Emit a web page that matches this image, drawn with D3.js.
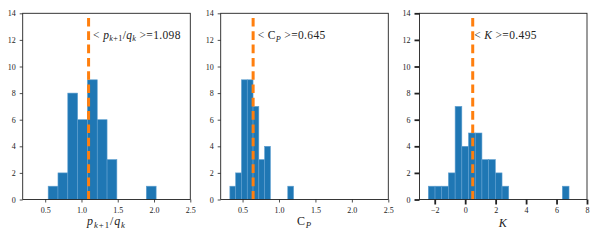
<!DOCTYPE html>
<html><head><meta charset="utf-8">
<script src="https://cdn.jsdelivr.net/npm/d3@7"></script>
<style>
body{margin:0;background:#fff;}
svg{display:block;font-family:"Liberation Serif","DejaVu Serif",serif;}
</style></head>
<body><svg id="chart" width="600" height="240"></svg>
<script>
// ---- data ----
const counts1 = [1, 2, 8, 6, 9, 6, 3, 0, 0, 0, 1];
const binRange1 = [0.541, 2.029];
const mean1 = 1.098;
const xTicks1 = [0.5, 1.0, 1.5, 2.0, 2.5];
const xDomain1 = [0.19, 2.5];

const counts2 = [1, 2, 9, 9, 7, 3, 4, 0, 0, 0, 1];
const binRange2 = [0.326, 1.200];
const mean2 = 0.645;
const xTicks2 = [0.5, 1.0, 1.5, 2.0, 2.5];
const xDomain2 = [0.2, 2.5];

const counts3 = [1, 1, 1, 2, 7, 4, 5, 5, 3, 3, 2, 1, 0, 0, 0, 0, 0, 0, 0, 0, 1];
const binRange3 = [-2.42, 6.82];
const mean3 = 0.495;
const xTicks3 = [-2, 0, 2, 4, 6, 8];
const xDomain3 = [-3, 8];

const yTicks = [0, 2, 4, 6, 8, 10, 12, 14];
const yDomain = [0, 14];

// ---- drawing ----
const svg = d3.select("#chart");
const plotTop = 13.3, plotBottom = 199.5;

const panels = [
  {counts: counts1, range: binRange1, mean: mean1, xt: xTicks1, xd: xDomain1, fmt: d3.format(".1f"),
   left: 22.7, right: 190.3, tick: 3, tw: 0.8, ann: "p", textDx: 4.5, textY: 38.5},
  {counts: counts2, range: binRange2, mean: mean2, xt: xTicks2, xd: xDomain2, fmt: d3.format(".1f"),
   left: 220.7, right: 388.3, tick: 3, tw: 0.8, ann: "C", textDx: 4.5, textY: 39.3},
  {counts: counts3, range: binRange3, mean: mean3, xt: xTicks3, xd: xDomain3, fmt: d3.format("d"),
   left: 419.5, right: 587, tick: 5, tw: 1.8, ann: "K", textDx: 1.5, textY: 39}
];

const SUB = 8.2;

panels.forEach(p => {
  const x = d3.scaleLinear().domain(p.xd).range([p.left, p.right]);
  const y = d3.scaleLinear().domain(yDomain).range([plotBottom, plotTop]);
  const g = svg.append("g");
  const n = p.counts.length;
  const w = (p.range[1] - p.range[0]) / n;
  const bins = p.counts.map((c, i) => ({x0: p.range[0] + i * w, x1: p.range[0] + (i + 1) * w, c}));

  g.selectAll("rect.bar").data(bins.filter(b => b.c > 0)).enter().append("rect")
    .attr("class", "bar")
    .attr("x", d => x(d.x0)).attr("width", d => x(d.x1) - x(d.x0))
    .attr("y", d => y(d.c)).attr("height", d => y(0) - y(d.c))
    .attr("fill", "#1f77b4").attr("stroke", "#5e9fd0").attr("stroke-width", 0.6);

  // mean line (drawn bottom-up so the dash pattern starts at the bottom)
  g.append("line")
    .attr("x1", x(p.mean)).attr("x2", x(p.mean))
    .attr("y1", y(0)).attr("y2", y(14))
    .attr("stroke", "#ff7f0e").attr("stroke-width", 3)
    .attr("stroke-dasharray", "8.6,4.7");

  // frame
  g.append("rect").attr("x", p.left).attr("y", plotTop)
    .attr("width", p.right - p.left).attr("height", plotBottom - plotTop)
    .attr("fill", "none").attr("stroke", "#222").attr("stroke-width", 0.9);

  const xa = g.append("g").attr("transform", `translate(0,${plotBottom})`)
    .call(d3.axisBottom(x).tickValues(p.xt).tickFormat(p.fmt).tickSize(p.tick).tickPadding(7.5 - p.tick + 0.3));
  const ya = g.append("g").attr("transform", `translate(${p.left},0)`)
    .call(d3.axisLeft(y).tickValues(yTicks).tickSize(p.tick).tickPadding(4));
  [xa, ya].forEach(a => {
    a.select(".domain").remove();
    a.selectAll(".tick line").attr("stroke", "#222").attr("stroke-width", p.tw);
    a.selectAll("text").attr("font-size", 8).attr("fill", "#222")
      .attr("font-family", "Liberation Serif, DejaVu Serif, serif");
  });

  // annotation text
  const t = g.append("text").attr("x", x(p.mean) + p.textDx).attr("y", p.textY)
    .attr("font-size", 11.5).attr("letter-spacing", 0.35).attr("fill", "#222");
  const cx = (p.left + p.right) / 2;
  const lab = g.append("text").attr("x", cx).attr("y", 225).attr("text-anchor", "middle")
    .attr("font-size", 12).attr("letter-spacing", 0.9).attr("fill", "#222");
  if (p.ann === "p") {
    t.append("tspan").text("< ");
    t.append("tspan").attr("font-style", "italic").text("p");
    t.append("tspan").attr("font-size", SUB).attr("dy", 2.2).attr("font-style", "italic").text("k");
    t.append("tspan").attr("font-size", SUB).text("+1");
    t.append("tspan").attr("dy", -2.2).text("/");
    t.append("tspan").attr("font-style", "italic").text("q");
    t.append("tspan").attr("font-size", SUB).attr("dy", 2.2).attr("font-style", "italic").text("k");
    t.append("tspan").attr("dy", -2.2).text(" >=" + mean1.toFixed(3));

    lab.append("tspan").attr("font-style", "italic").text("p");
    lab.append("tspan").attr("font-size", 8.8).attr("dy", 2.5).attr("font-style", "italic").text("k");
    lab.append("tspan").attr("font-size", 8.8).text("+1");
    lab.append("tspan").attr("dy", -2.5).text("/");
    lab.append("tspan").attr("font-style", "italic").text("q");
    lab.append("tspan").attr("font-size", 8.8).attr("dy", 2.5).attr("font-style", "italic").text("k");
  } else if (p.ann === "C") {
    t.append("tspan").text("< C");
    t.append("tspan").attr("font-size", SUB).attr("dy", 2.2).attr("font-style", "italic").text("P");
    t.append("tspan").attr("dy", -2.2).text(" >=" + mean2.toFixed(3));

    lab.append("tspan").text("C");
    lab.append("tspan").attr("font-size", 8.8).attr("dy", 2.5).attr("font-style", "italic").text("P");
  } else {
    t.append("tspan").text("< ");
    t.append("tspan").attr("font-style", "italic").text("K");
    t.append("tspan").text(" >=" + mean3.toFixed(3));
    lab.attr("y", 227);
    lab.append("tspan").attr("font-style", "italic").text("K");
  }
});
</script></body></html>
